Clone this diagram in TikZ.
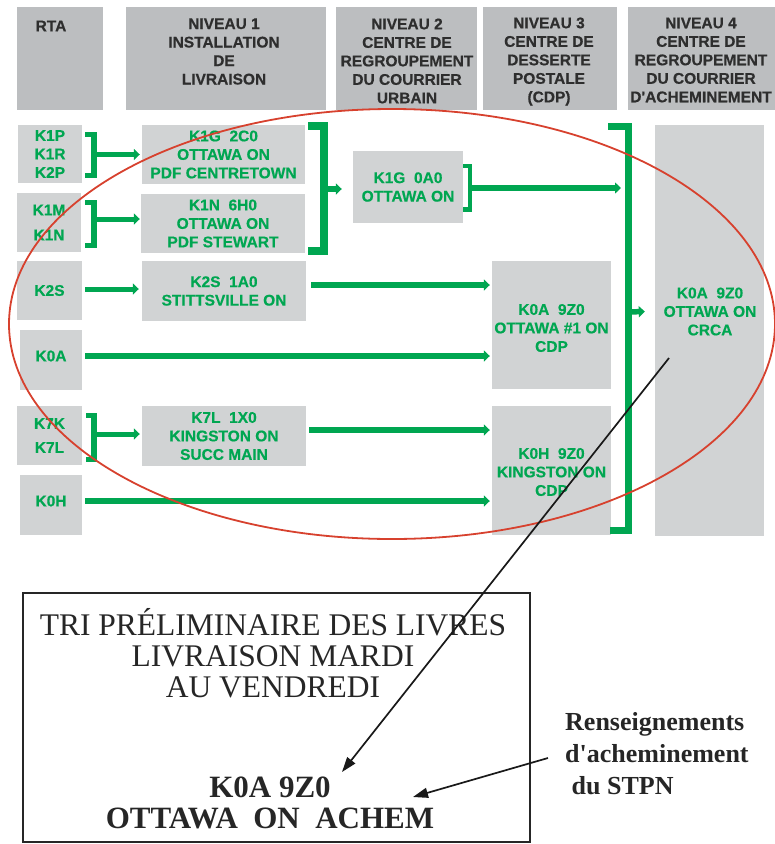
\documentclass[tikz,border=0pt]{standalone}
\usepackage{fontspec}
\setmainfont{Liberation Serif}
\newfontfamily\diagsans{Liberation Sans}[BoldFeatures={FakeBold=0.5}]
\usetikzlibrary{arrows.meta}
\definecolor{hdrgray}{HTML}{BCBEC0}
\definecolor{boxgray}{HTML}{D1D3D4}
\definecolor{pgreen}{HTML}{00A651}
\definecolor{pred}{HTML}{D7412E}
\definecolor{hdrtext}{HTML}{2E2E2E}
\begin{document}
\begin{tikzpicture}[x=1pt,y=-1pt,
  hdr/.style={fill=hdrgray, draw=none, inner sep=0pt},
  cell/.style={fill=boxgray, draw=none, inner sep=0pt, text=pgreen,
    font=\diagsans\bfseries\fontsize{15.5}{18.5}\selectfont, align=center},
  hdrtxt/.style={inner sep=0pt, text=hdrtext, align=center,
    font=\diagsans\bfseries\fontsize{15.5}{18.5}\selectfont},
  gtxt/.style={inner sep=0pt, text=pgreen, align=center,
    font=\diagsans\bfseries\fontsize{15.5}{18.5}\selectfont},
  garrow/.style={draw=pgreen, line width=5.5pt, -{Triangle[length=6pt,width=11pt]}},
  brk/.style={draw=pgreen, line width=5.5pt, line join=miter},
  barrow/.style={draw=black!90, line width=1.7pt, -{Triangle[length=15pt,width=10pt]}},
  serif/.style={inner sep=0pt, align=center, text=black!85}
]
\useasboundingbox (0,0) rectangle (775,844);

% headers
\node[hdr, minimum width=86pt, minimum height=103pt] (hrta) at (60,58.5) {};
\node[hdr, minimum width=200pt, minimum height=103pt] (hn1) at (226,58.5) {};
\node[hdr, minimum width=141pt, minimum height=103pt] (hn2) at (406.5,58.5) {};
\node[hdr, minimum width=134pt, minimum height=103pt] (hn3) at (550,58.5) {};
\node[hdr, minimum width=147pt, minimum height=103pt] (hn4) at (701.5,58.5) {};
\node[hdrtxt] (thrta) at (51,26) {RTA};
\node[hdrtxt] (thn1) at (224,51.5) {NIVEAU 1\\INSTALLATION\\DE\\LIVRAISON};
\node[hdrtxt] (thn2) at (407,61) {NIVEAU 2\\CENTRE DE\\REGROUPEMENT\\DU COURRIER\\URBAIN};
\node[hdrtxt] (thn3) at (549,61.5) {NIVEAU 3\\CENTRE DE\\DESSERTE\\POSTALE\\(CDP)};
\node[hdrtxt] (thn4) at (701,60) {NIVEAU 4\\CENTRE DE\\REGROUPEMENT\\DU COURRIER\\D\textquotesingle ACHEMINEMENT};

% RTA cells
\node[cell, minimum width=64pt, minimum height=58pt] (r1) at (50,154) {K1P\\K1R\\K2P};
\node[cell, minimum width=64pt, minimum height=59pt] (r2) at (49,222.5) {K1M\\[6.5pt]K1N};
\node[cell, minimum width=65pt, minimum height=59pt] (r3) at (49.5,290.5) {K2S};
\node[cell, minimum width=62pt, minimum height=60pt] (r4) at (51,360) {};
\node[gtxt] (tr4) at (51,356) {K0A};
\node[cell, minimum width=65pt, minimum height=59pt] (r5) at (49.5,435.5) {K7K\\[5.5pt]K7L};
\node[cell, minimum width=62pt, minimum height=60pt] (r6) at (51,505) {};
\node[gtxt] (tr6) at (51,501) {K0H};

% level 1
\node[cell, minimum width=163pt, minimum height=59pt] (l1a) at (223.5,154.5) {K1G\ \ 2C0\\OTTAWA ON\\PDF CENTRETOWN};
\node[cell, minimum width=164pt, minimum height=59pt] (l1b) at (223,223.5) {K1N\ \ 6H0\\OTTAWA ON\\PDF STEWART};
\node[cell, minimum width=164pt, minimum height=60pt] (l1c) at (224,291) {K2S\ \ 1A0\\STITTSVILLE ON};
\node[cell, minimum width=164pt, minimum height=60pt] (l1d) at (224,436) {K7L\ \ 1X0\\KINGSTON ON\\SUCC MAIN};

% level 2
\node[cell, minimum width=110pt, minimum height=72pt] (l2) at (408,187) {K1G\ \ 0A0\\OTTAWA ON};

% level 3
\node[cell, minimum width=119pt, minimum height=128pt] (l3a) at (551.5,325) {};
\node[gtxt] (tl3a) at (551.5,328) {K0A\ \ 9Z0\\OTTAWA \#1 ON\\CDP};
\node[cell, minimum width=119pt, minimum height=129pt] (l3b) at (551.5,470.5) {};
\node[gtxt] (tl3b) at (551.5,472) {K0H\ \ 9Z0\\KINGSTON ON\\CDP};

% level 4
\node[cell, minimum width=109pt, minimum height=411pt] (l4) at (709.5,330.5) {};
\node[gtxt] (tl4) at (710,311.5) {K0A\ \ 9Z0\\OTTAWA ON\\CRCA};

% brackets and arrows, RTA -> level 1
\draw[brk] (85,134.5) -- (94,134.5) -- (94,175.5) -- (85,175.5);
\draw[garrow, line width=5pt] (94,154.5) -- ([xshift=-2pt]l1a.west);
\draw[brk] (85,202.5) -- (94,202.5) -- (94,245.5) -- (85,245.5);
\draw[garrow, line width=5pt] (94,219) -- ([xshift=-1pt,yshift=4.5pt]l1b.west);
\draw[garrow, line width=5pt] ([xshift=3pt,yshift=1.5pt]r3.east) -- ([xshift=-3pt,yshift=2pt]l1c.west);
\draw[brk] (86,415.5) -- (94,415.5) -- (94,459.5) -- (86,459.5);
\draw[garrow, line width=5pt] (94,434) -- ([xshift=-2pt,yshift=2pt]l1d.west);

% level 1 -> level 2
\draw[brk, line width=8pt] (308,126) -- (324,126) -- (324,251) -- (308,251);
\draw[garrow] (324,189) -- ([xshift=-11pt,yshift=-2pt]l2.west);

% level 2 -> level 4 bracket
\draw[brk, line width=4.5pt] (463,166) -- (470,166) -- (470,209.5) -- (463,209.5);
\draw[garrow] (470,188) -- (621,188);

% -> level 3
\draw[garrow] ([xshift=5pt,yshift=6pt]l1c.east) -- ([xshift=-2pt,yshift=6pt]l1c.east -| l3a.west);
\draw[garrow] ([xshift=3pt]tr4.east -| r4.east) -- ([xshift=-2pt]tr4.east -| l3a.west);
\draw[garrow] ([xshift=3pt,yshift=6pt]l1d.east) -- ([xshift=-2pt,yshift=6pt]l1d.east -| l3b.west);
\draw[garrow] ([xshift=3pt]tr6.east -| r6.east) -- ([xshift=-2pt]tr6.east -| l3b.west);

% level 3 -> level 4
\draw[brk, line width=7pt] (608,126.5) -- (628,126.5) -- (628,530) -- (610,530);
\draw[garrow] (628,312) -- ([xshift=-10pt]l4.west |- tl4.center);

% red ellipse
\draw[pred, line width=1.8pt] (392,324) ellipse [x radius=383pt, y radius=215pt];

% bottom box
\node[draw=black!85, line width=2pt, minimum width=507pt, minimum height=249pt, inner sep=0pt] (bbox) at (276.5,717.5) {};
\node[serif, font=\fontsize{31.5}{31}\selectfont] (ttri) at (273,653) {TRI PRÉLIMINAIRE DES LIVRES\\LIVRAISON MARDI\\AU VENDREDI};
\node[serif, font=\bfseries\fontsize{31}{31}\selectfont] (tcode) at (270,802.5) {K0A 9Z0\\OTTAWA\ \ ON\ \ ACHEM};
\node[inner sep=0pt, align=left, anchor=north west, text=black!85, font=\bfseries\fontsize{26}{32}\selectfont] (tstpn) at (565,712) {Renseignements\\d\textquotesingle acheminement\\\ du STPN};

% black arrows
\coordinate (c1) at (669,358);
\coordinate (c2) at (342,772);
\coordinate (c3) at (548,758);
\coordinate (c4) at (413,797);
\draw[barrow] (c1) -- (c2);
\draw[barrow] (c3) -- (c4);
\end{tikzpicture}
\end{document}
